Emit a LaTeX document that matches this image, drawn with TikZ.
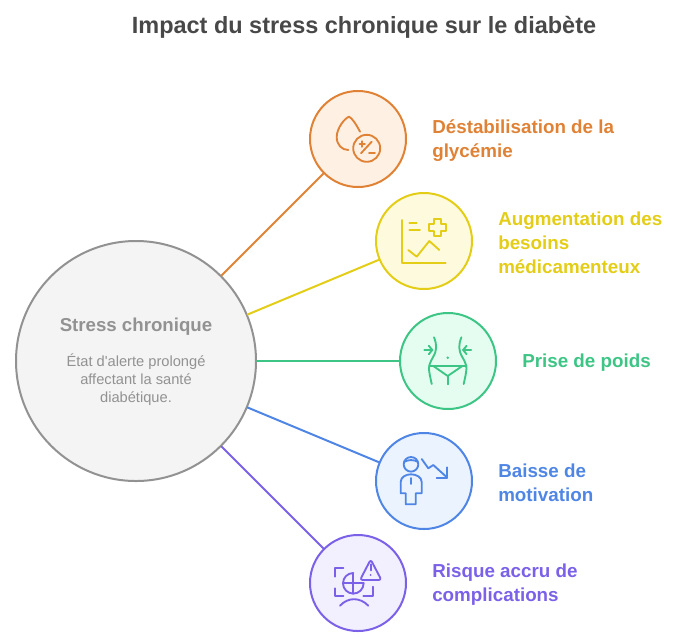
\documentclass[tikz,border=0pt]{standalone}
\usepackage{fontspec}
\setmainfont{Liberation Sans}
\usepackage{xcolor}
\definecolor{stressline}{HTML}{929292}
\definecolor{stressfill}{HTML}{F4F4F4}
\definecolor{orangeline}{HTML}{E08236}
\definecolor{orangefill}{HTML}{FFF0E4}
\definecolor{yellowline}{HTML}{E3CD17}
\definecolor{yellowfill}{HTML}{FEFADD}
\definecolor{greenline}{HTML}{3DC585}
\definecolor{greenfill}{HTML}{E4FDF0}
\definecolor{blueline}{HTML}{4F86E6}
\definecolor{bluefill}{HTML}{EBF3FF}
\definecolor{purpleline}{HTML}{7B61E8}
\definecolor{purplefill}{HTML}{F2EFFF}
\definecolor{titlegray}{HTML}{484848}

\begin{document}
\begin{tikzpicture}[line cap=round,line join=round,x=0.75pt,y=-0.75pt,
  bubble/.style={circle,draw=#1line,fill=#1fill,line width=1.5pt,minimum size=72pt,inner sep=0pt},
  label/.style={anchor=west,align=left,inner sep=0pt,text=#1line,font=\fontsize{14.1}{18}\selectfont\bfseries},
  link/.style={draw=#1line,line width=1.5pt},
  icon/.style={draw=#1line,line width=1.4pt}]
\useasboundingbox (0,0) rectangle (677,636);
\node (titletext) at (364,27.5) {\fontsize{17.6}{22}\selectfont\bfseries\textcolor{titlegray}{Impact du stress chronique sur le diabète}};
\node[circle,draw=stressline,fill=stressfill,line width=1.5pt,minimum size=180pt,inner sep=0pt] (stress) at (136,361) {};
\node[bubble=orange] (glycemie) at (358,139) {};
\node[bubble=yellow] (besoins) at (424,241) {};
\node[bubble=green] (poids) at (448,361) {};
\node[bubble=blue] (motivation) at (424,481) {};
\node[bubble=purple] (risque) at (358,583) {};
\draw[link=orange] (stress) -- (glycemie);
\draw[link=yellow] (stress) -- (besoins);
\draw[link=green] (stress) -- (poids);
\draw[link=blue] (stress) -- (motivation);
\draw[link=purple] (stress) -- (risque);
\node[text=stressline,font=\fontsize{14}{18}\selectfont\bfseries] (stresstitle) at (136,327) {Stress chronique};
\node[text=stressline,align=center,font=\fontsize{11}{13.5}\selectfont] (stressdesc) at (136,380) {État d\textquotesingle alerte prolongé\\affectant la santé\\diabétique.};
\node[label=orange] (glycemietext) at (432,141) {Déstabilisation de la\\glycémie};
\node[label=yellow] (besoinstext) at (498,243) {Augmentation des\\besoins\\médicamenteux};
\node[label=green] (poidstext) at (522,363) {Prise de poids};
\node[label=blue] (motivationtext) at (498,483) {Baisse de\\motivation};
\node[label=purple] (risquetext) at (432,585) {Risque accru de\\complications};
% drop
\draw[icon=orange] (360,131.7) .. controls (356,124) and (352,118) .. (349,116.7) .. controls (345,118) and (336.7,128) .. (336.7,137) .. controls (336.7,145) and (342,150) .. (348.3,150);
\draw[icon=orange] (366.7,148.3) circle (13.5);
\draw[icon=orange] (361,153.3) -- (371.7,141.7);
\draw[icon=orange] (359.5,144) -- (365,144);
\draw[icon=orange] (362.3,141.2) -- (362.3,146.8);
\draw[icon=orange] (369,152.7) -- (375,152.7);
% chart
\draw[icon=yellow] (401.7,220) -- (401.7,262.7) -- (445.7,262.7);
\draw[icon=yellow] (409.3,222.7) -- (416.7,222.7);
\draw[icon=yellow] (409.3,230) -- (420,230);
\draw[icon=yellow] (433.8,219) -- (440.8,219) -- (440.8,224.2) -- (446,224.2) -- (446,231.2) -- (440.8,231.2) -- (440.8,236.4) -- (433.8,236.4) -- (433.8,231.2) -- (428.6,231.2) -- (428.6,224.2) -- (433.8,224.2) -- cycle;
\draw[icon=yellow] (408.3,250) -- (416.7,256.7) -- (429.3,241) -- (439.3,250);
% waist
\draw[icon=green] (434,337.3) .. controls (437,345) and (437,350) .. (433.3,356.7) .. controls (430,362) and (428,367) .. (429.3,372) .. controls (430,377) and (431,380) .. (431.7,384);
\draw[icon=green] (461.4,337.3) .. controls (458.4,345) and (458.4,350) .. (462.1,356.7) .. controls (465.4,362) and (467.4,367) .. (466.1,372) .. controls (465.4,377) and (464.4,380) .. (463.7,384);
\draw[icon=green] (424.3,350) -- (432.3,350);
\draw[icon=green] (428.8,345.8) -- (432.3,350) -- (428.8,354.2);
\draw[icon=green] (471.1,350) -- (463.1,350);
\draw[icon=green] (466.6,345.8) -- (463.1,350) -- (466.6,354.2);
\fill[greenline] (447.7,357.7) circle (1.4);
\draw[icon=green] (429.3,366) -- (466.7,366);
\draw[icon=green] (433.3,366) -- (447.7,376) -- (462.3,366);
\draw[icon=green] (447.7,376) -- (447.7,384.3);
% person
\draw[icon=blue] (411,464.3) circle (7.3);
\draw[icon=blue] (404.3,461.8) .. controls (408,459.5) and (414,459.5) .. (417.7,461.8);
\draw[icon=blue] (411,478) -- (411,484);
\draw[icon=blue] (405.7,494) -- (405.7,504.3) -- (415.7,504.3) -- (415.7,493.3) -- (421.7,493.3) -- (421.7,482) .. controls (421.7,477) and (416,474.3) .. (411,474.3) .. controls (406,474.3) and (400.7,477) .. (400.7,482) -- (400.7,493.3) -- (405.7,493.3) -- cycle;
\draw[icon=blue] (421.7,459) -- (428.3,468.3) -- (433.3,465) -- (447.3,477.7);
\draw[icon=blue] (447.3,467.3) -- (447.3,477.7) -- (436.7,477.7);
% globe and warning
\draw[icon=purple] (343.3,568.3) -- (335,568.3) -- (335,576.7);
\draw[icon=purple] (335,588.3) -- (335,596) -- (343.3,596);
\draw[icon=purple] (363.3,596) -- (372.7,596) -- (372.7,586.7);
\draw[icon=purple] (353.3,573) arc (-90:-360:10.3);
\draw[icon=purple] (343,583.3) -- (363.6,583.3);
\draw[icon=purple] (353.3,573) -- (353.3,593.6);
\draw[icon=purple,rounded corners=2pt] (370.7,559.5) -- (360,580) -- (381.4,580) -- cycle;
\draw[icon=purple] (370.7,564.3) -- (370.7,570.5);
\fill[purpleline] (370.7,575) circle (1);
\draw[icon=purple] (340,605.7) .. controls (348,597) and (360,597) .. (368.3,605.7);
\end{tikzpicture}
\end{document}
